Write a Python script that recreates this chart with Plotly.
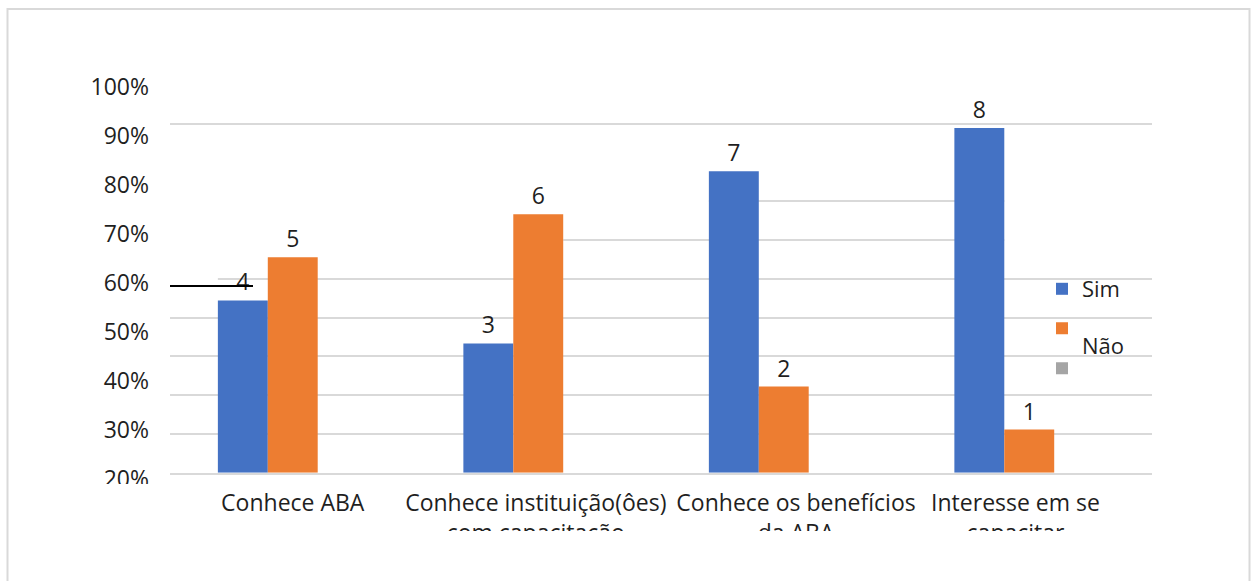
import plotly.graph_objects as go

# ---- data -------------------------------------------------------------
categories = [
    "Conhece ABA",
    "Conhece instituição(ôes)<br>com capacitação",
    "Conhece os benefícios<br>da ABA",
    "Interesse em se<br>capacitar",
]
sim = [4, 3, 7, 8]
nao = [5, 6, 2, 1]
serie3 = [0, 0, 0, 0]
series_names = ["Sim", "Não", ""]

pct_ticks = [100, 90, 80, 70, 60, 50, 40, 30, 20]
pct_labels = [f"{v}%" for v in pct_ticks]
grid_vals = [round(0.9 * k, 2) for k in range(1, 11)]

# horizontal nudge of each category caption (category units)
label_shift = [0.0, -0.01, 0.05, -0.056]

# ---- page geometry ----------------------------------------------------
W, H = 1251, 581
L, R, T, B = 170, 99, 80, 96
PW, PH = W - L - R, H - T - B
BOTTOM = H - B


def xp(px):
    return (px - L) / PW


def yp(py):
    return (BOTTOM - py) / PH


FONT = "Open Sans, Noto Sans, sans-serif"
TXT = "#1f1f1f"
GRID = "#D9D9D9"
FS = 23
LFS = 22

BLUE, ORANGE, GRAY = "#4472C4", "#ED7D31", "#A5A5A5"

fig = go.Figure()
fig.add_trace(go.Bar(
    x=categories, y=sim, name=series_names[0], marker_color=BLUE,
    marker_line_width=0, text=sim, textposition="outside",
    textfont=dict(size=FS, color=TXT, family=FONT), constraintext="none",
    cliponaxis=False, legend="legend",
))
fig.add_trace(go.Bar(
    x=categories, y=nao,
    name=f" <br><span style='font-size:{LFS}px'>{series_names[1]}</span>",
    marker_color=ORANGE,
    marker_line_width=0, text=nao, textposition="outside",
    textfont=dict(size=FS, color=TXT, family=FONT), constraintext="none",
    cliponaxis=False, legend="legend2",
))
fig.add_trace(go.Bar(
    x=categories, y=serie3, name=series_names[2], marker_color=GRAY,
    marker_line_width=0, legend="legend3",
))
# carrier for the percentage scale on the left
fig.add_trace(go.Scatter(
    x=[categories[0]], y=[None], yaxis="y2", mode="markers",
    showlegend=False, hoverinfo="skip",
))

# bar geometry in category units (used to trim the grid lines)
bargap = 0.39
w = (1 - bargap) / 3

white = dict(color="white", width=0)
gh = 0.08
masks = [
    (-0.5, 3.5, 7.2),
    (-0.5, 2 - 1.5 * w, 6.3),
    (3 - 0.5 * w, 3.5, 6.3),
    (-0.5, 1 + 0.5 * w, 5.4),
    (3 - 0.5 * w, 3.5, 5.4),
    (-0.5, -1.5 * w, 4.5),
]
shapes = []
for x0, x1, yv in masks:
    shapes.append(dict(type="rect", xref="x", yref="y", x0=x0, x1=x1,
                       y0=yv - gh, y1=yv + gh, fillcolor="white",
                       line=white, layer="between"))

# stray rule through the first label
shapes.append(dict(type="line", xref="paper", yref="paper",
                   x0=xp(170), x1=xp(253), y0=yp(286), y1=yp(286),
                   line=dict(color="black", width=2), layer="above"))
# label clipping bands
shapes.append(dict(type="rect", xref="paper", yref="paper",
                   x0=xp(40), x1=xp(167), y0=yp(484), y1=yp(520),
                   fillcolor="white", line=white, layer="above"))
shapes.append(dict(type="rect", xref="paper", yref="paper",
                   x0=xp(140), x1=xp(1200), y0=yp(531), y1=yp(600),
                   fillcolor="white", line=white, layer="above"))
# outer frame
shapes.append(dict(type="rect", xref="paper", yref="paper",
                   x0=xp(7.5), x1=xp(1249.5), y0=yp(600), y1=yp(9),
                   fillcolor="rgba(0,0,0,0)",
                   line=dict(color=GRID, width=2), layer="above"))

legend_common = dict(
    bgcolor="rgba(0,0,0,0)", borderwidth=0, xanchor="left",
    x=xp(1042), valign="top",
)

fig.update_layout(
    width=W, height=H,
    margin=dict(l=L, r=R, t=T, b=B, pad=0),
    paper_bgcolor="white", plot_bgcolor="rgba(0,0,0,0)",
    font=dict(family=FONT, size=FS, color=TXT),
    barmode="group", bargap=bargap, bargroupgap=0,
    hovermode=False,
    shapes=shapes,
    xaxis=dict(
        range=[-0.5, 3.5], showgrid=False, showline=True,
        linecolor=GRID, linewidth=1.5, ticks="", tickangle=0,
        tickmode="array",
        tickvals=[i + s for i, s in enumerate(label_shift)],
        ticktext=categories,
        tickfont=dict(size=FS, color=TXT, family=FONT),
        ticklabelstandoff=9, fixedrange=True,
    ),
    yaxis=dict(
        domain=[yp(472.7), yp(85)], range=[0, 9],
        tickmode="array", tickvals=grid_vals, showticklabels=False,
        showgrid=True, gridcolor=GRID, gridwidth=1.5,
        zeroline=False, showline=False, ticks="", fixedrange=True,
    ),
    yaxis2=dict(
        domain=[0, 1], anchor="free", position=0, side="left",
        range=[100 - (BOTTOM - 87) / 4.9, 100 + (87 - T) / 4.9],
        tickmode="array", tickvals=pct_ticks, ticktext=pct_labels,
        showgrid=False, zeroline=False, showline=False, ticks="",
        tickfont=dict(size=FS, color=TXT, family=FONT),
        ticklabelstandoff=21, fixedrange=True,
    ),
    legend=dict(**legend_common, font=dict(size=LFS, color=TXT, family=FONT),
                y=yp(289), yanchor="middle"),
    legend2=dict(**legend_common, font=dict(size=15, color=TXT, family=FONT),
                 y=yp(312), yanchor="top"),
    legend3=dict(**legend_common, font=dict(size=LFS, color=TXT, family=FONT),
                 y=yp(368.5), yanchor="middle"),
)

fig.write_html("out.html", config={"displayModeBar": False})
